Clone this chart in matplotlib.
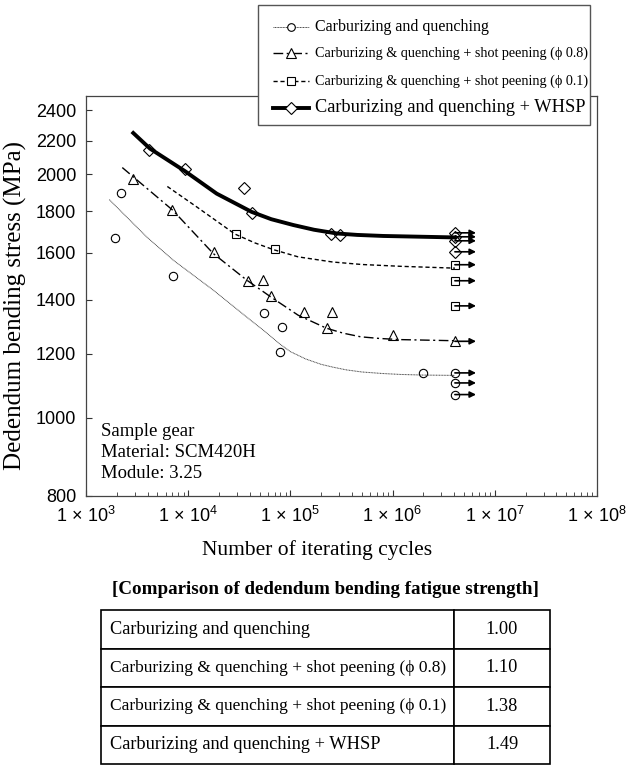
import numpy as np
import matplotlib
matplotlib.use('Agg')
import matplotlib.pyplot as plt
from matplotlib.lines import Line2D
from matplotlib.patches import Rectangle
from matplotlib.ticker import FixedLocator, NullLocator, LogLocator, FuncFormatter

plt.rcParams['mathtext.fontset'] = 'custom'
plt.rcParams['mathtext.rm'] = 'Liberation Sans'
plt.rcParams['mathtext.it'] = 'Liberation Sans:italic'
plt.rcParams['mathtext.bf'] = 'Liberation Sans:bold'

SERIF = ['Liberation Serif', 'DejaVu Serif']
SANS = ['Liberation Sans', 'DejaVu Sans']

# measured points (cycles, MPa)
cq_x = [1920, 2210, 7100, 54700, 82200, 80000, 1.98e6]
cq_y = [1669, 1895, 1495, 1346, 1293, 1206, 1136]
cq_run_y = [1136, 1104, 1068]

sp08_x = [2900, 6970, 17700, 38100, 54200, 65000, 1.35e5, 2.54e5, 2.26e5, 1.0e6]
sp08_y = [1976, 1805, 1601, 1478, 1480, 1414, 1350, 1350, 1292, 1265]
sp08_run_y = [1243]

sp01_x = [29600, 70500]
sp01_y = [1688, 1618]
sp01_run_y = [1546, 1477, 1375]

whsp_x = [4170, 9230, 35200, 42100, 2.5e5, 3.07e5]
whsp_y = [2144, 2030, 1926, 1789, 1688, 1682]
whsp_run_y = [1693, 1674, 1655, 1604]

run_x = 4.07e6      # run-out (no failure) position
arrow_tip = 6.55e6

# fitted S-N curves
cq_fit_x = [1690, 3930, 7150, 17600, 37300, 56000, 79100, 1e5, 1.41e5, 2e5, 2.59e5,
            3.5e5, 5e5, 8e5, 1.2e6, 2e6, 4.07e6]
cq_fit_y = [1861, 1673, 1566, 1438, 1332, 1279, 1233, 1207, 1182, 1164, 1155,
            1146, 1139, 1134, 1131, 1129, 1128]
sp08_fit_x = [2265, 7050, 17600, 37300, 65600, 1.19e5, 2.26e5, 3.3e5, 4.87e5, 7.5e5,
              1.2e6, 4.07e6]
sp08_fit_y = [2039, 1806, 1596, 1480, 1408, 1339, 1290, 1272, 1259, 1253, 1249, 1245]
sp01_fit_x = [6250, 12100, 28700, 45000, 68100, 1.19e5, 2.59e5, 5e5, 1.2e6, 4.07e6]
sp01_fit_y = [1932, 1823, 1687, 1645, 1614, 1581, 1558, 1547, 1539, 1531]
whsp_fit_x = [2900, 4230, 9310, 19000, 41800, 65000, 1.07e5, 1.7e5, 2.84e5, 4.5e5,
              8.1e5, 4.07e6]
whsp_fit_y = [2250, 2152, 2018, 1893, 1797, 1760, 1731, 1708, 1690, 1683, 1678, 1671]

labels = ['Carburizing and quenching',
          'Carburizing & quenching + shot peening (\u03d5 0.8)',
          'Carburizing & quenching + shot peening (\u03d5 0.1)',
          'Carburizing and quenching + WHSP']
ratios = [1.00, 1.10, 1.38, 1.49]

y_ticks = [800, 1000, 1200, 1400, 1600, 1800, 2000, 2200, 2400]

W, H = 628, 765
fig = plt.figure(figsize=(W / 100, H / 100), dpi=100)
ax = fig.add_axes([86 / W, 1 - 496 / H, 511 / W, 400 / H])

styles = [
    dict(color='#444444', lw=0.7, ls=(0, (1, 0.6)), marker='o', ms=6),
    dict(color='black', lw=1.0, ls=(0, (7, 2.5, 1.5, 2.5)), marker='^', ms=7.5),
    dict(color='black', lw=1.0, ls=(0, (3, 2)), marker='s', ms=6),
    dict(color='black', lw=2.8, ls='-', marker='D', ms=6.5),
]
series = [
    (cq_x, cq_y, cq_run_y, cq_fit_x, cq_fit_y),
    (sp08_x, sp08_y, sp08_run_y, sp08_fit_x, sp08_fit_y),
    (sp01_x, sp01_y, sp01_run_y, sp01_fit_x, sp01_fit_y),
    (whsp_x, whsp_y, whsp_run_y, whsp_fit_x, whsp_fit_y),
]

for st, (px, py, ry, fx, fy) in zip(styles, series):
    ax.plot(fx, fy, color=st['color'], lw=st['lw'], ls=st['ls'], zorder=2)
    ax.plot(px, py, ls='none', marker=st['marker'], ms=st['ms'], mfc='none',
            mec='black', mew=0.8, zorder=3)
    for yy in ry:
        ax.annotate('', xy=(arrow_tip, yy), xytext=(run_x, yy),
                    arrowprops=dict(arrowstyle='-|>', color='black', lw=1.2,
                                    mutation_scale=9, shrinkA=0, shrinkB=0),
                    zorder=3)
    ax.plot([run_x] * len(ry), ry, ls='none', marker=st['marker'], ms=st['ms'],
            mfc='none', mec='black', mew=0.8, zorder=4)

ax.set_xscale('log')
ax.set_yscale('log')
ax.set_xlim(1e3, 1e8)
ax.set_ylim(800, 2500)

ax.yaxis.set_major_locator(FixedLocator(y_ticks))
ax.yaxis.set_minor_locator(NullLocator())
ax.set_yticklabels([str(v) for v in y_ticks])
ax.xaxis.set_major_locator(LogLocator(base=10, numticks=10))
ax.xaxis.set_minor_locator(LogLocator(base=10, subs=np.arange(2, 10), numticks=20))
ax.xaxis.set_major_formatter(FuncFormatter(
    lambda v, p: r'$1\,\times\,10^{%d}$' % round(np.log10(v))))

ax.tick_params(axis='both', which='both', direction='in', colors='#333333',
               labelcolor='black', top=False, right=False,
               labelsize=13, labelfontfamily='Liberation Sans')
ax.tick_params(axis='both', which='major', length=4, width=0.8)
ax.tick_params(axis='x', which='minor', length=3, width=0.6)
ax.tick_params(axis='x', which='major', pad=7)
ax.tick_params(axis='y', which='major', pad=7)
for sp in ax.spines.values():
    sp.set_color('#444444')
    sp.set_linewidth(0.9)

ax.text(15 / 511, 73 / 400, 'Sample gear\nMaterial: SCM420H\nModule: 3.25',
        transform=ax.transAxes, ha='left', va='top', family=SERIF,
        fontsize=13.5, linespacing=1.32)

fig.text(15 / W, 1 - 305 / H, 'Dedendum bending stress (MPa)', rotation=90,
         ha='center', va='center', family=SERIF, fontsize=18)
fig.text(317 / W, 1 - 550 / H, 'Number of iterating cycles', ha='center',
         va='center', family=SERIF, fontsize=15.5)

# legend drawn by hand, it sits half above the axes
fig.patches.append(Rectangle((258 / W, 1 - 125 / H), 332 / W, 120 / H,
                             transform=fig.transFigure, fc='white',
                             ec='#555555', lw=1.0, zorder=5))
leg_y = [26.7, 52.9, 80.8, 107.6]
leg_size = [11.5, 10.2, 10.2, 13.2]
for st, lab, yy, fs in zip(styles, labels, leg_y, leg_size):
    yf = 1 - yy / H
    fig.lines.append(Line2D([272.5 / W, 308.6 / W], [yf, yf], transform=fig.transFigure,
                            color=st['color'], lw=st['lw'], ls=st['ls'], zorder=6))
    fig.lines.append(Line2D([290.5 / W], [yf], transform=fig.transFigure, ls='none',
                            marker=st['marker'], ms=st['ms'] - 0.5, mfc='white',
                            mec='black', mew=0.8, zorder=7))
    fig.text(314.6 / W, yf, lab, ha='left', va='center', family=SERIF,
             fontsize=fs, zorder=7)

fig.text(325 / W, 1 - 590 / H, '[Comparison of dedendum bending fatigue strength]',
         ha='center', va='center', family=SERIF, fontsize=13.7, fontweight='bold')

# comparison table
tab_ax = fig.add_axes([101 / W, 1 - 764 / H, 449 / W, 154 / H])
tab_ax.axis('off')
cells = [[lab, '%.2f' % r] for lab, r in zip(labels, ratios)]
tab = tab_ax.table(cellText=cells, colWidths=[353 / 449, 96 / 449],
                   bbox=[0, 0, 1, 1], cellLoc='left')
tab.auto_set_font_size(False)
row_size = [13.2, 12.5, 12.5, 13.2]
for (r, c), cell in tab.get_celld().items():
    cell.set_linewidth(1.2)
    cell.set_edgecolor('black')
    txt = cell.get_text()
    txt.set_fontfamily(SERIF)
    txt.set_fontsize(row_size[r] if c == 0 else 13.2)
    if c == 1:
        cell.set_text_props(ha='center')
        cell._loc = 'center'
    else:
        cell.PAD = 0.025

fig.savefig('out.png', dpi=100)
